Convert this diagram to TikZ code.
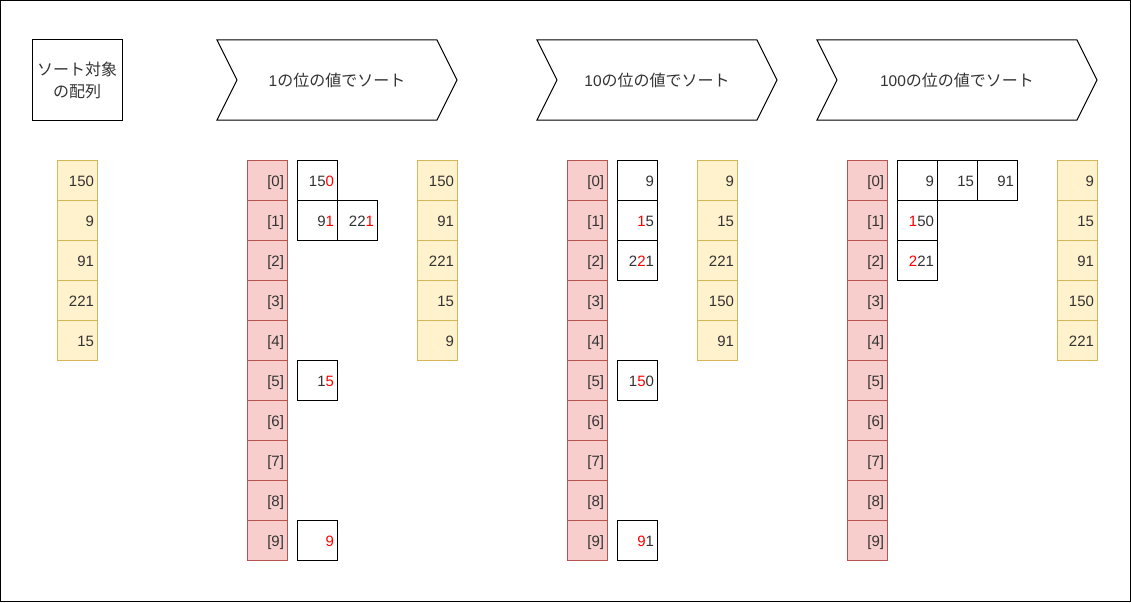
\documentclass[tikz,border=0pt]{standalone}
\usepackage{fontspec}
\setmainfont{Liberation Sans}
\newfontfamily\jp{Noto Sans CJK JP}
\definecolor{redfill}{HTML}{F8CECC}
\definecolor{redline}{HTML}{B85450}
\definecolor{yelfill}{HTML}{FFF2CC}
\definecolor{yelline}{HTML}{D6B656}
\definecolor{txt}{HTML}{333333}
\newcommand\rdig[1]{\textcolor{red}{#1}}
\newcommand\jpc[1]{{\jp\fontsize{16}{19}\selectfont #1}}
\begin{document}
\begin{tikzpicture}[x=1pt,y=-1pt,
  cell/.style={draw, line width=1pt, minimum height=40pt, text width=34pt, inner xsep=3pt, inner ysep=0pt, align=right, font=\fontsize{15}{17}\selectfont, text=txt, text height=12.6pt, text depth=0pt},
  redcell/.style={cell, fill=redfill, draw=redline},
  yelcell/.style={cell, fill=yelfill, draw=yelline},
  bucket/.style={cell, draw=black, fill=white},
  chev/.style={draw=black, line width=1pt, fill=white},
  chevtext/.style={font=\fontsize{15.5}{19}\selectfont, text=txt}]
\useasboundingbox (0,0) rectangle (1131,602);
\draw[line width=1pt] (0.5,0.5) rectangle (1130.5,601.5);

% title box
\node[draw, line width=1pt, minimum width=90pt, minimum height=80pt, inner sep=0pt, align=center, font=\jp\fontsize{16}{22}\selectfont, text=txt] (title) at (77,80) {ソート対象\\の配列};

% chevrons
\draw[chev] (217,40) -- (437,40) -- (457,80) -- (437,120) -- (217,120) -- (237,80) -- cycle;
\node[chevtext] (c1) at (337,80.5) {1\jpc{の位の値でソート}};
\draw[chev] (537,40) -- (757,40) -- (777,80) -- (757,120) -- (537,120) -- (557,80) -- cycle;
\node[chevtext] (c2) at (657,80.5) {10\jpc{の位の値でソート}};
\draw[chev] (817,40) -- (1077,40) -- (1097,80) -- (1077,120) -- (817,120) -- (837,80) -- cycle;
\node[chevtext] (c3) at (957,80.5) {100\jpc{の位の値でソート}};

% initial array
\foreach \v [count=\i from 0] in {150,9,91,221,15}
  \node[yelcell] (a0-\i) at (77,180+40*\i) {\v};

% index columns
\foreach \cx/\k in {267/1,587/2,867/3}
  \foreach \i in {0,...,9}
    \node[redcell] (r\k-\i) at (\cx,180+40*\i) {[\i]};

% pass 1 buckets
\node[bucket] (b1-0a) at (317,180) {15\rdig{0}};
\node[bucket] (b1-1a) at (317,220) {9\rdig{1}};
\node[bucket] (b1-1b) at (357,220) {22\rdig{1}};
\node[bucket] (b1-5a) at (317,380) {1\rdig{5}};
\node[bucket] (b1-9a) at (317,540) {\rdig{9}};
\foreach \v [count=\i from 0] in {150,91,221,15,9}
  \node[yelcell] (a1-\i) at (437,180+40*\i) {\v};

% pass 2 buckets
\node[bucket] (b2-0a) at (637,180) {9};
\node[bucket] (b2-1a) at (637,220) {\rdig{1}5};
\node[bucket] (b2-2a) at (637,260) {2\rdig{2}1};
\node[bucket] (b2-5a) at (637,380) {1\rdig{5}0};
\node[bucket] (b2-9a) at (637,540) {\rdig{9}1};
\foreach \v [count=\i from 0] in {9,15,221,150,91}
  \node[yelcell] (a2-\i) at (717,180+40*\i) {\v};

% pass 3 buckets
\node[bucket] (b3-0a) at (917,180) {9};
\node[bucket] (b3-0b) at (957,180) {15};
\node[bucket] (b3-0c) at (997,180) {91};
\node[bucket] (b3-1a) at (917,220) {\rdig{1}50};
\node[bucket] (b3-2a) at (917,260) {\rdig{2}21};
\foreach \v [count=\i from 0] in {9,15,91,150,221}
  \node[yelcell] (a3-\i) at (1077,180+40*\i) {\v};
\end{tikzpicture}
\end{document}
